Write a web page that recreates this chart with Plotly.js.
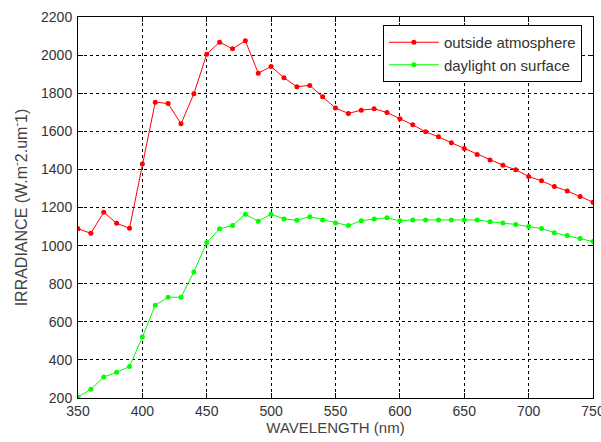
<!DOCTYPE html>
<html>
<head>
<meta charset="utf-8">
<script src="https://cdn.plot.ly/plotly-3.0.1.min.js"></script>
<style>html,body{margin:0;padding:0;background:#fff;}#chart{width:601px;height:442px;}</style>
</head>
<body>
<div id="chart"></div>
<script>
const wavelength = [350,360,370,380,390,400,410,420,430,440,450,460,470,480,490,500,510,520,530,540,550,560,570,580,590,600,610,620,630,640,650,660,670,680,690,700,710,720,730,740,750];
const outsideAtmosphere = [1088,1065,1175,1117,1091,1429,1753,1746,1639,1797,2005,2068,2033,2075,1905,1940,1881,1834,1841,1781,1722,1694,1711,1718,1699,1666,1634,1597,1571,1540,1510,1478,1450,1422,1398,1363,1340,1310,1287,1258,1228];
const daylightOnSurface = [205,246,310,335,365,520,687,729,729,862,1016,1088,1105,1165,1128,1165,1140,1133,1152,1135,1119,1105,1130,1140,1146,1130,1135,1135,1135,1135,1135,1135,1125,1118,1111,1100,1090,1067,1053,1037,1021];
const seriesNames = ["outside atmosphere", "daylight on surface"];
const xTicks = [350,400,450,500,550,600,650,700,750];
const yTicks = [200,400,600,800,1000,1200,1400,1600,1800,2000,2200];

const FONT = 'Liberation Sans, Arial, sans-serif';

const traces = [
  {x: wavelength, y: outsideAtmosphere, name: seriesNames[0], type: 'scatter', mode: 'lines+markers',
   line: {color: '#ff0000', width: 1}, marker: {color: '#ff0000', size: 5}},
  {x: wavelength, y: daylightOnSurface, name: seriesNames[1], type: 'scatter', mode: 'lines+markers',
   line: {color: '#00ff00', width: 1}, marker: {color: '#00ff00', size: 5}}
];

const axisCommon = {
  showline: true, linecolor: '#000', linewidth: 1, mirror: 'ticks',
  ticks: 'inside', ticklen: 5, tickcolor: '#000',
  showgrid: true, gridcolor: '#000', gridwidth: 1, griddash: '3px,3px',
  zeroline: false, ticklabeloverflow: 'allow',
  tickfont: {family: FONT, size: 14, color: '#333'}
};

const layout = {
  width: 601, height: 442,
  margin: {l: 78, r: 8, t: 17, b: 44},
  paper_bgcolor: '#fff', plot_bgcolor: '#fff',
  showlegend: true,
  legend: {x: 0.592, y: 0.979, xanchor: 'left', yanchor: 'top',
    bordercolor: '#000', borderwidth: 1, bgcolor: '#fff',
    font: {family: FONT, size: 15, color: '#333'},
    itemwidth: 50, tracegroupgap: 0},
  xaxis: Object.assign({}, axisCommon, {
    range: [350, 750], tickvals: xTicks, ticktext: xTicks.map(String),
    title: {text: 'WAVELENGTH (nm)', standoff: 3,
      font: {family: FONT, size: 15, color: '#444'}}
  }),
  yaxis: Object.assign({}, axisCommon, {
    range: [200, 2200], tickvals: yTicks, ticktext: yTicks.map(String),
    ticklabelstandoff: 2,
    title: {text: 'IRRADIANCE (W.m<sup>-</sup>2.um<sup>-</sup>1)', standoff: 9,
      font: {family: FONT, size: 16, color: '#444'}}
  })
};

Plotly.newPlot('chart', traces, layout, {displayModeBar: false, staticPlot: true});
</script>
</body>
</html>
